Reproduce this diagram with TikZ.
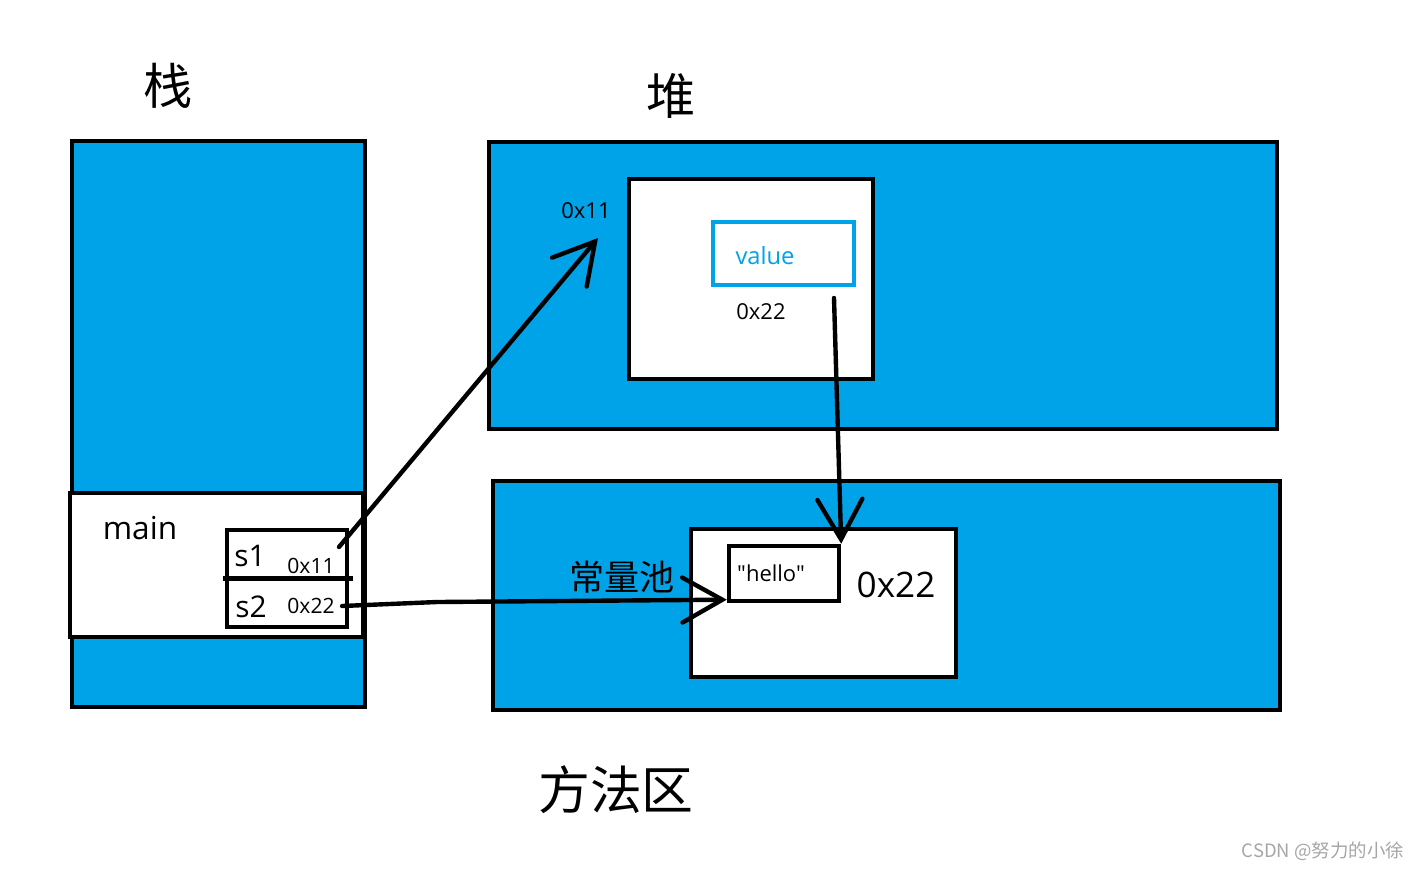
\documentclass[tikz,border=0pt]{standalone}
\usepackage{fontspec}
\setmainfont{Open Sans}[Ligatures=TeXOff]
\newfontfamily\cjk{Noto Sans CJK SC}
\usetikzlibrary{arrows.meta}
\definecolor{paintblue}{RGB}{0,162,232}

\begin{document}
\begin{tikzpicture}[x=0.02cm, y=-0.02cm, line width=2.5pt,
  box/.style={draw=black, rectangle, inner sep=0},
  blk/.style={box, fill=paintblue},
  wht/.style={box, fill=white},
  txt/.style={inner sep=0, font=\fontsize{#1}{#1}\selectfont},
  big/.style={inner sep=0, font=\cjk\fontsize{#1}{#1}\selectfont},
  >={Straight Barb[length=8mm, width=9mm, line cap=round]}]
\useasboundingbox (0,0) rectangle (1425,869);
% stack
\node[blk, minimum width=5.86cm, minimum height=11.32cm] (stack) at (218.5,424) {};
\node[wht, minimum width=5.86cm, minimum height=2.88cm] (main) at (216.5,565) {};
\node[wht, minimum width=2.4cm, minimum height=1.94cm] (sbox) at (287,578.5) {};
\draw ([xshift=-1]sbox.west) -- ([xshift=2]sbox.east);
% heap
\node[blk, minimum width=15.76cm, minimum height=5.74cm] (heap) at (883,285.5) {};
\node[wht, minimum width=4.88cm, minimum height=4cm] (obj) at (751,279) {};
\node[wht, draw=paintblue, minimum width=2.82cm, minimum height=1.26cm] (value) at (783.5,253.5) {};
% method area
\node[blk, minimum width=15.74cm, minimum height=4.58cm] (method) at (886.5,595.5) {};
\node[wht, minimum width=5.3cm, minimum height=2.96cm] (pool) at (823.5,603) {};
\node[wht, minimum width=2.2cm, minimum height=1.1cm] (hello) at (784,573.5) {};

\node[big=28] (tstack) at (168,86) {栈};
\node[big=28] (theap) at (671,96) {堆};
\node[big=29.5] (tmethod) at (616,790) {方法区};
\node[big=20] (tpool) at (622,577) {常量池};
\node[txt=18] (tmain) at (140,528) {main};
\node[txt=17] (ts1) at (250,556) {s1};
\node[txt=17] (ts2) at (251,607) {s2};
\node[txt=12] (v1) at (311,566) {0x11};
\node[txt=12] (v2) at (311,606) {0x22};
\node[txt=12.5] (a11) at (586,211) {0x11};
\node[txt=13.5, text=paintblue] (tvalue) at (765,256) {value};
\node[txt=12.5] (a22) at (761,312) {0x22};
\node[txt=12.5] (thello) at (771,573) {"hello"};
\node[txt=20] (b22) at (896,585) {0x22};
\node[inner sep=0, text=black!35, font=\cjk\fontsize{10.5}{10.5}\selectfont] (mark) at (1323,851) {CSDN @努力的小徐};

\coordinate (s1out) at (339,547);
\coordinate (s1in) at (598,238);
\coordinate (fout) at (834,298);
\draw[->, line cap=round] (s1out) -- (s1in);
\draw[->, line cap=round] ([xshift=3]v2.east) -- (437,602) -- ([yshift=2]hello.south west);
\draw[->, line cap=round] (fout) -- (hello.north east);
\end{tikzpicture}
\end{document}
